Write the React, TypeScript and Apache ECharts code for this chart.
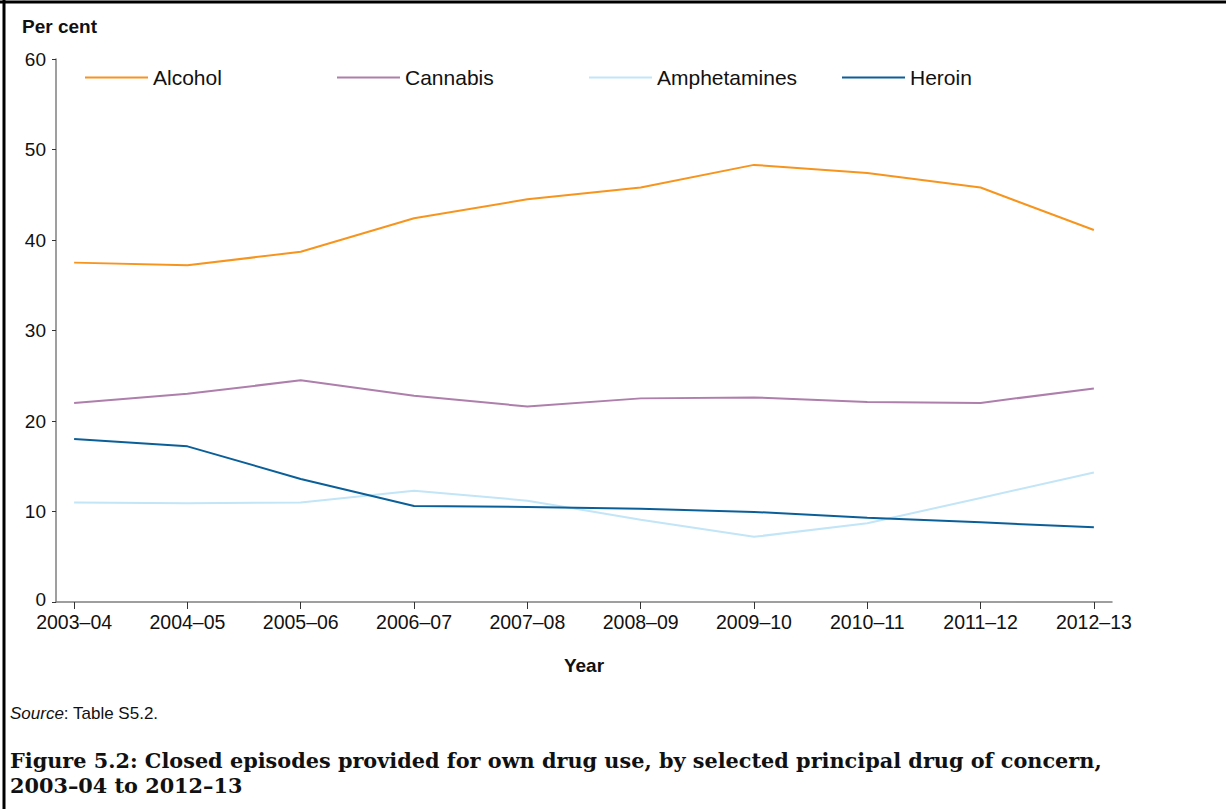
import React, { useEffect, useRef } from "react";
import * as echarts from "echarts";

const years = ["2003–04", "2004–05", "2005–06", "2006–07", "2007–08", "2008–09", "2009–10", "2010–11", "2011–12", "2012–13"];
const alcohol = [37.5, 37.2, 38.7, 42.4, 44.5, 45.8, 48.3, 47.4, 45.8, 41.1];
const cannabis = [22.0, 23.0, 24.5, 22.8, 21.6, 22.5, 22.6, 22.1, 22.0, 23.6];
const amphetamines = [11.0, 10.9, 11.0, 12.3, 11.2, 9.1, 7.2, 8.7, 11.5, 14.3];
const heroin = [18.0, 17.2, 13.6, 10.6, 10.5, 10.3, 9.95, 9.3, 8.8, 8.25];
const seriesNames = ["Alcohol", "Cannabis", "Amphetamines", "Heroin"];
const seriesValues = [alcohol, cannabis, amphetamines, heroin];
const seriesColors = ["#F7941D", "#AE7EAC", "#C2E5F7", "#0B5F99"];
const yTicks = [0, 10, 20, 30, 40, 50, 60];

const SANS = "'Liberation Sans', Arial, sans-serif";
const SERIF = "'DejaVu Serif', serif";

export default function App() {
  const ref = useRef<HTMLDivElement>(null);
  useEffect(() => {
    document.body.style.margin = "0";
    const chart = echarts.init(ref.current!, undefined, { renderer: "svg" });
    const legendLefts = [80, 332, 584, 837];
    chart.setOption({
      animation: false,
      backgroundColor: "#ffffff",
      grid: { left: 56, right: 114, top: 59, bottom: 207, containLabel: false },
      legend: seriesNames.map((n, i) => ({
        data: [n],
        left: legendLefts[i],
        top: 62,
        itemWidth: 63,
        itemHeight: 14,
        itemGap: 0,
        icon: "path://M0,6 L63,6 L63,8 L0,8 Z",
        textStyle: { fontFamily: SANS, fontSize: 21, color: "#111", padding: [0, 0, 0, 0] },
        selectedMode: false,
      })),
      xAxis: {
        type: "value",
        min: -0.16,
        max: 9.16,
        splitLine: { show: false },
        axisLine: { show: true, onZero: false, lineStyle: { color: "#7f7f7f", width: 1.5 } },
        axisTick: { show: true, length: 7, customValues: years.map((_, i) => i), lineStyle: { color: "#333", width: 1 } },
        axisLabel: {
          customValues: years.map((_, i) => i),
          formatter: (v: number) => years[Math.round(v)] ?? "",
          fontFamily: SANS,
          fontSize: 19.5,
          lineHeight: 16,
          color: "#111",
          margin: 12,
        },
        name: "Year",
        nameLocation: "middle",
        nameGap: 54,
        nameTextStyle: { fontFamily: SANS, fontSize: 19, fontWeight: "bold", color: "#111" },
      },
      yAxis: {
        type: "value",
        min: yTicks[0],
        max: yTicks[yTicks.length - 1],
        interval: 10,
        splitLine: { show: false },
        axisLine: { show: true, onZero: false, lineStyle: { color: "#7f7f7f", width: 1.5 } },
        axisTick: { show: true, length: 4, lineStyle: { color: "#333", width: 1 } },
        axisLabel: {
          fontFamily: SANS,
          fontSize: 19,
          lineHeight: 14,
          color: "#111",
          margin: 10,
          formatter: (v: number) => (v === 0 ? "{z|0}" : String(v)),
          rich: { z: { fontFamily: SANS, fontSize: 19, lineHeight: 14, color: "#111", padding: [0, 0, 5, 0] } },
        },
      },
      series: seriesNames.map((n, i) => ({
        name: n,
        type: "line",
        symbol: "none",
        data: seriesValues[i].map((v, j) => [j, v]),
        lineStyle: { color: seriesColors[i], width: 2 },
        itemStyle: { color: seriesColors[i] },
      })),
      graphic: [
        { type: "line", shape: { x1: 0, y1: 2, x2: 1226, y2: 2 }, style: { stroke: "#000", lineWidth: 3 } },
        { type: "line", shape: { x1: 4, y1: 0, x2: 4, y2: 809 }, style: { stroke: "#000", lineWidth: 3 } },
        {
          type: "text",
          left: 22,
          top: 17,
          style: { text: "Per cent", font: `bold 19px ${SANS}`, fill: "#111" },
        },
        {
          type: "text",
          left: 10,
          top: 705,
          style: {
            text: "{i|Source}: Table S5.2.",
            font: `17px ${SANS}`,
            fill: "#111",
            rich: { i: { fontStyle: "italic", fontFamily: SANS, fontSize: 17 } },
          },
        },
        {
          type: "text",
          left: 10,
          top: 748,
          style: {
            text: "Figure 5.2: Closed episodes provided for own drug use, by selected principal drug of concern,\n2003–04 to 2012–13",
            font: `bold 20.8px ${SERIF}`,
            lineHeight: 25,
            fill: "#111",
          },
        },
      ],
    });
    return () => chart.dispose();
  }, []);
  return <div ref={ref} style={{ width: 1226, height: 809 }} />;
}
